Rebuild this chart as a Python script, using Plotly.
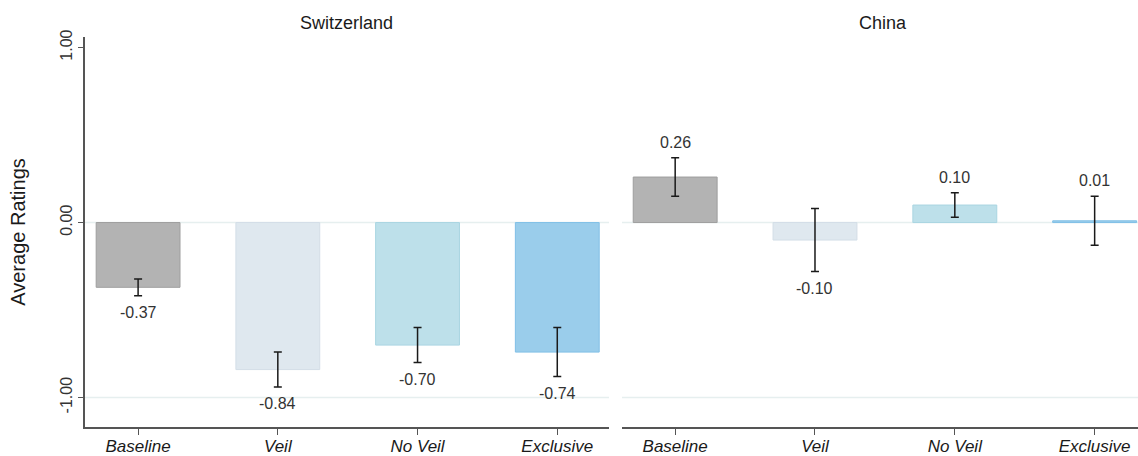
import plotly.graph_objects as go

categories = ["Baseline", "Veil", "No Veil", "Exclusive"]
panels = ["Switzerland", "China"]
swiss_values = [-0.37, -0.84, -0.70, -0.74]
swiss_errors = [0.048, 0.10, 0.10, 0.14]
china_values = [0.26, -0.10, 0.10, 0.01]
china_errors = [0.11, 0.18, 0.07, 0.14]
y_ticks = [-1.0, 0.0, 1.0]
y_tick_labels = ["-1.00", "0.00", "1.00"]

bar_colors = ["#b3b3b3", "#dfe8ef", "#bde0ea", "#9acdeb"]
line_colors = ["#9e9e9e", "#d3dee7", "#a9d5e2", "#80bfe6"]

FONT = "Liberation Sans, Arial, sans-serif"

fig = go.Figure()
data = [(swiss_values, swiss_errors), (china_values, china_errors)]
for i, (vals, errs) in enumerate(data):
    xa = "x" if i == 0 else "x2"
    ya = "y" if i == 0 else "y2"
    fig.add_trace(go.Bar(
        x=categories, y=vals, xaxis=xa, yaxis=ya,
        width=0.6,
        marker=dict(color=bar_colors, line=dict(color=line_colors, width=1)),
        error_y=dict(type="data", array=errs, color="#1a1a1a", thickness=1.5, width=4),
        showlegend=False, hoverinfo="skip",
    ))
    for c, v, e in zip(categories, vals, errs):
        if v >= 0:
            yy, ys, anc = v + e, 5, "bottom"
        else:
            yy, ys, anc = v - e, -6, "top"
        fig.add_annotation(x=c, y=yy, xref=xa, yref=ya, text=f"{v:.2f}",
                           showarrow=False, yshift=ys, yanchor=anc,
                           font=dict(family=FONT, size=16, color="#333333"))
    for g in [0.0, -1.0]:
        fig.add_shape(type="line", xref=f"{xa} domain", yref=ya, x0=0, x1=1,
                      y0=g, y1=g, line=dict(color="#e6efef", width=1.5), layer="below")

fig.add_annotation(text=panels[0], x=0.2488, xref="paper", y=1.0, yref="paper",
                   yshift=2, yanchor="bottom", xanchor="center", showarrow=False,
                   font=dict(family=FONT, size=18, color="#1a1a1a"))
fig.add_annotation(text=panels[1], x=0.758, xref="paper", y=1.0, yref="paper",
                   yshift=2, yanchor="bottom", xanchor="center", showarrow=False,
                   font=dict(family=FONT, size=18, color="#1a1a1a"))

yrange = [-1.168, 1.06]
xrange_left = [-0.38, 3.37]
xrange_right = [-0.38, 3.31]

common_x = dict(type="category", showline=True, linecolor="#555555", linewidth=1.5,
                ticks="outside", ticklen=6, tickcolor="#555555", showgrid=False,
                zeroline=False, automargin=False, ticklabelstandoff=-3,
                tickfont=dict(family=FONT, size=17, color="#1a1a1a", style="italic"))

fig.update_layout(
    width=1138, height=456,
    margin=dict(l=85, r=0, t=37, b=29),
    paper_bgcolor="white", plot_bgcolor="white",
    bargap=0.4,
    xaxis=dict(domain=[0, 0.4976], range=xrange_left, anchor="y", **common_x),
    xaxis2=dict(domain=[0.51, 1.0], range=xrange_right, anchor="y2", **common_x),
    yaxis=dict(range=yrange, tickvals=y_ticks, ticktext=y_tick_labels, tickangle=-90,
               showline=True, linecolor="#555555", linewidth=1.5, ticks="outside",
               ticklen=5, tickcolor="#555555", showgrid=False, zeroline=False,
               automargin=False,
               tickfont=dict(family=FONT, size=16, color="#333333"),
               title=dict(text="Average Ratings", standoff=27,
                          font=dict(family=FONT, size=20, color="#1a1a1a"))),
    yaxis2=dict(range=yrange, anchor="x2", showline=False, showticklabels=False,
                ticks="", showgrid=False, zeroline=False, automargin=False),
)

fig.write_html("out.html", config={"displayModeBar": False},
               post_script="document.body.style.margin='0';document.body.style.overflow='hidden';")
